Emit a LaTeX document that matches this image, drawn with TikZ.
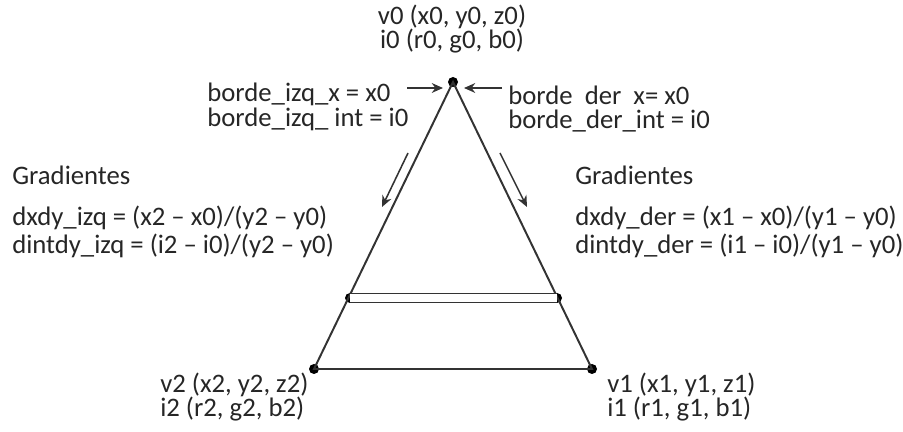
\documentclass[tikz,border=0pt]{standalone}
\usepackage{fontspec}
\setmainfont{Carlito}
\usetikzlibrary{arrows.meta}

\begin{document}
\begin{tikzpicture}[
    x=0.025cm, y=-0.025cm,
    txt/.style={inner sep=0pt, align=left, text=black!85, font=\fontsize{19}{17.3}\selectfont},
    vertice/.style={circle, fill=black, inner sep=0pt, minimum size=0.25cm},
    lado/.style={line width=1.4pt, draw=black!80},
    flecha/.style={-{Stealth[length=8pt, width=7pt]}, line width=1.1pt, draw=black!80}
]
\useasboundingbox (0,0) rectangle (903,432);

% Vertices
\node[vertice] (v0) at (453,82) {};
\node[vertice] (v2) at (314,369) {};
\node[vertice] (v1) at (592,369) {};
\node[vertice] (sl) at (350,298) {};
\node[vertice] (sr) at (557,298) {};

% Triangle
\draw[lado] (v0.center) -- (v2.center) -- (v1.center) -- cycle;
\draw[lado, double=white, double distance=5pt] (sl.center) -- (sr.center);

% Labels of vertices
\node[txt, align=center] (v0lab) at (452,29) {v0 (x0, y0, z0)\\i0 (r0, g0, b0)};
\node[txt, anchor=west] (v2lab) at (160,397) {v2 (x2, y2, z2)\\i2 (r2, g2, b2)};
\node[txt, anchor=west] (v1lab) at (607,397) {v1 (x1, y1, z1)\\i1 (r1, g1, b1)};

% Borders
\node[txt, anchor=west] (izqlab) at (207,107) {borde\_izq\_x = x0\\borde\_izq\_ int = i0};
\node[txt, anchor=west] (derlab) at (508,109) {borde\ \ der\ \ x= x0\\borde\_der\_int = i0};
\coordinate (izq1) at (407,88);
\coordinate (izq2) at (443,88);
\coordinate (der1) at (502,88);
\coordinate (der2) at (464,88);
\draw[flecha] (izq1) -- (izq2);
\draw[flecha] (der1) -- (der2);

% Gradients
\node[txt, anchor=west] (gradizq) at (12,175) {Gradientes};
\node[txt, anchor=west] (dxizq) at (12,218) {dxdy\_izq = (x2 -- x0)/(y2 -- y0)};
\node[txt, anchor=west] (dintizq) at (12,246) {dintdy\_izq = (i2 -- i0)/(y2 -- y0)};
\node[txt, anchor=west] (gradder) at (575,175) {Gradientes};
\node[txt, anchor=west] (dxder) at (575,218) {dxdy\_der = (x1 -- x0)/(y1 -- y0)};
\node[txt, anchor=west] (dintder) at (575,246) {dintdy\_der = (i1 -- i0)/(y1 -- y0)};

% Arrows along the edges
\coordinate (bi1) at (408,153);
\coordinate (bi2) at (382,207);
\coordinate (bd1) at (500,153);
\coordinate (bd2) at (527,207);
\draw[flecha] (bi1) -- (bi2);
\draw[flecha] (bd1) -- (bd2);

\end{tikzpicture}
\end{document}
